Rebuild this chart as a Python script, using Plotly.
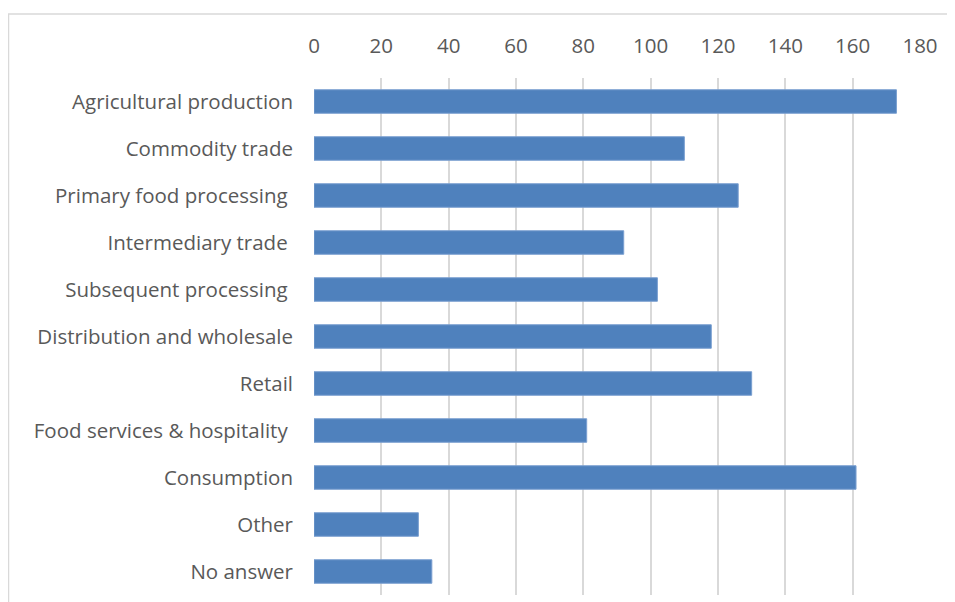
import plotly.graph_objects as go

categories = [
    "Agricultural production",
    "Commodity trade",
    "Primary food processing\u00a0",
    "Intermediary trade\u00a0",
    "Subsequent processing\u00a0",
    "Distribution and wholesale",
    "Retail",
    "Food services & hospitality\u00a0",
    "Consumption",
    "Other",
    "No answer",
]
values = [173, 110, 126, 92, 102, 118, 130, 81, 161, 31, 35]
x_ticks = [0, 20, 40, 60, 80, 100, 120, 140, 160, 180]

fig = go.Figure(
    go.Bar(
        x=values,
        y=categories,
        orientation="h",
        width=0.5,
        marker=dict(color="#4f81bd", line=dict(color="#7a9fd0", width=1)),
    )
)

font = dict(family="Open Sans, Noto Sans, sans-serif", size=20.5, color="#595959")

L, T = 306, 70
PW, PH = 606, 516.5

fig.update_layout(
    width=947,
    height=594,
    margin=dict(l=L, r=35, t=T, b=7),
    paper_bgcolor="white",
    plot_bgcolor="white",
    showlegend=False,
    font=font,
    xaxis=dict(
        side="top",
        range=[0, 180],
        tickvals=x_ticks,
        showgrid=True,
        gridcolor="#d9d9d9",
        gridwidth=1.5,
        zeroline=False,
        showline=False,
        ticks="",
        ticklabelstandoff=20,
        tickfont=font,
    ),
    yaxis=dict(
        autorange="reversed",
        showgrid=False,
        showline=False,
        ticks="",
        ticklabelstandoff=20,
        tickfont=font,
    ),
    shapes=[
        dict(
            type="rect",
            xref="paper",
            yref="paper",
            x0=(0.5 - L) / PW,
            x1=(990 - L) / PW,
            y0=-0.1,
            y1=1 + (T - 6) / PH,
            line=dict(color="#d9d9d9", width=1.5),
            fillcolor="rgba(0,0,0,0)",
            layer="below",
        )
    ],
)

fig.write_html("out.html")
